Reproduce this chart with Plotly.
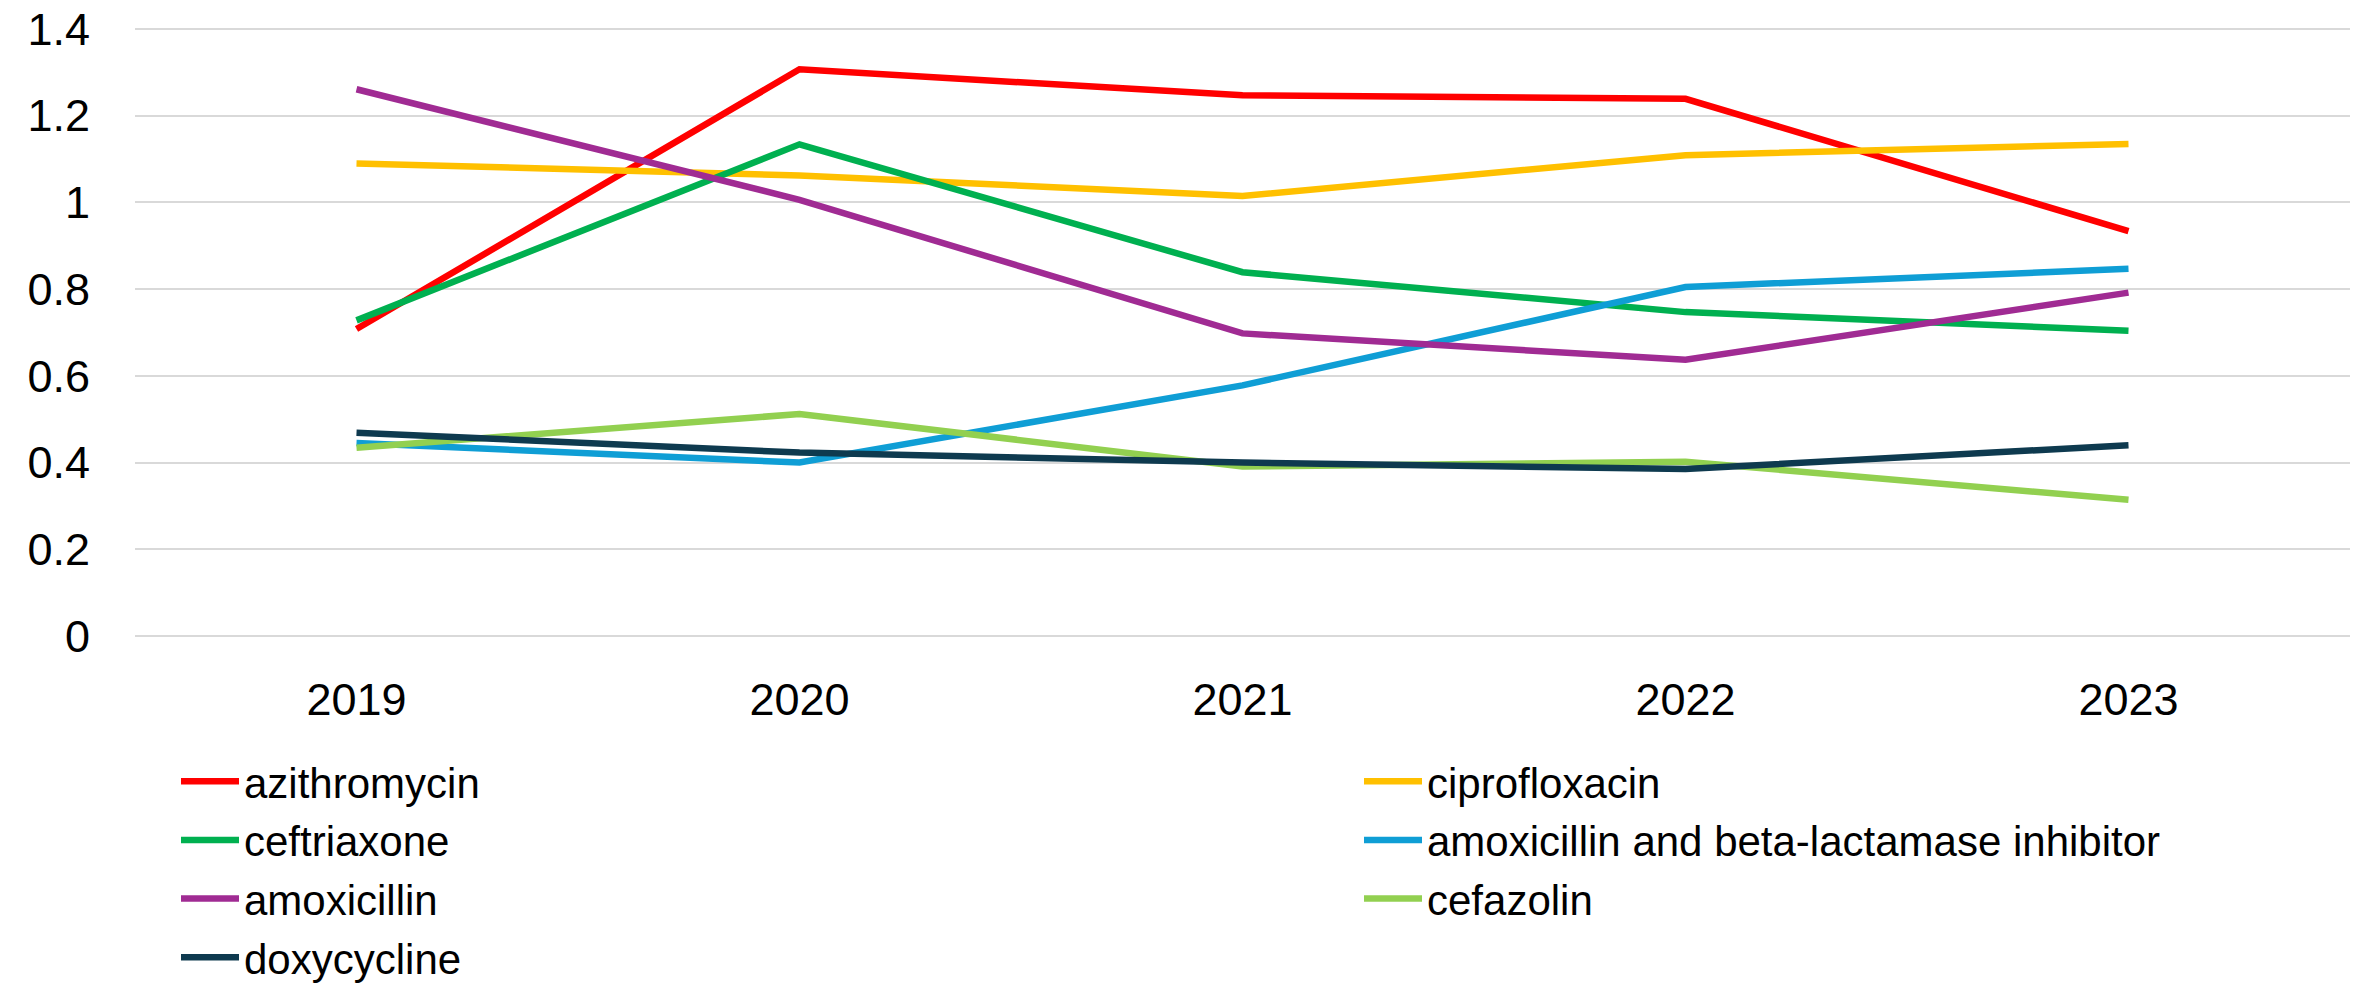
import plotly.graph_objects as go

years = ["2019", "2020", "2021", "2022", "2023"]

azithromycin = [0.708, 1.307, 1.247, 1.239, 0.934]
ciprofloxacin = [1.090, 1.062, 1.015, 1.109, 1.135]
ceftriaxone = [0.728, 1.134, 0.839, 0.747, 0.704]
amox_beta = [0.445, 0.400, 0.578, 0.805, 0.847]
amoxicillin = [1.261, 1.006, 0.698, 0.637, 0.792]
cefazolin = [0.434, 0.512, 0.391, 0.402, 0.314]
doxycycline = [0.469, 0.423, 0.400, 0.385, 0.440]

y_ticks = [0, 0.2, 0.4, 0.6, 0.8, 1.0, 1.2, 1.4]
y_tick_labels = ["0", "0.2", "0.4", "0.6", "0.8", "1", "1.2", "1.4"]

series = [
    ("azithromycin", azithromycin, "#FF0000", "legend"),
    ("ciprofloxacin", ciprofloxacin, "#FFC000", "legend2"),
    ("ceftriaxone", ceftriaxone, "#00B050", "legend"),
    ("amoxicillin and beta-lactamase inhibitor", amox_beta, "#0F9ED5", "legend2"),
    ("amoxicillin", amoxicillin, "#A02B93", "legend"),
    ("cefazolin", cefazolin, "#92D050", "legend2"),
    ("doxycycline", doxycycline, "#0E3A4F", "legend"),
]

FONT = "Liberation Sans, Arial, sans-serif"

fig = go.Figure()
for name, vals, color, lg in series:
    fig.add_trace(go.Scatter(
        x=years, y=vals, name=name, mode="lines",
        line=dict(color=color, width=6.5),
        legend=lg, legendgroup=name,
    ))

W, H = 2359, 983
ml, mr, mt, mb = 135, 9, 27, 345
pw = W - ml - mr
ph = H - mt - mb

def px_x(p):
    return (p - ml) / pw

def px_y(p):
    return (H - mb - p) / ph

legend_common = dict(
    orientation="v", xanchor="left", yanchor="top",
    font=dict(family=FONT, size=42, color="#000000"),
    bgcolor="rgba(0,0,0,0)", borderwidth=0,
    itemwidth=58, tracegroupgap=1.1, itemclick=False,
)

fig.update_layout(
    width=W, height=H,
    margin=dict(l=ml, r=mr, t=mt, b=mb, autoexpand=False),
    paper_bgcolor="white", plot_bgcolor="white",
    font=dict(family=FONT, color="#000000"),
    showlegend=True,
    legend=dict(x=px_x(176), y=px_y(747.4), **legend_common),
    legend2=dict(x=px_x(1359), y=px_y(747.4), **legend_common),
    xaxis=dict(
        type="category", range=[-0.5, 4.5], showgrid=False, zeroline=False, showline=False,
        ticks="", tickfont=dict(family=FONT, size=45, color="#000000"),
        ticklabelstandoff=31,
    ),
    yaxis=dict(
        range=[-0.0046, 1.4046], tickvals=y_ticks, ticktext=y_tick_labels,
        showgrid=True, gridcolor="#D9D9D9", gridwidth=2,
        zeroline=False, showline=False, ticks="",
        tickfont=dict(family=FONT, size=45, color="#000000"),
        ticklabelstandoff=44,
    ),
)

fig.write_html(
    "out.html",
    config={"displayModeBar": False},
    post_script="document.body.style.margin='0';document.body.style.overflow='hidden';",
)
